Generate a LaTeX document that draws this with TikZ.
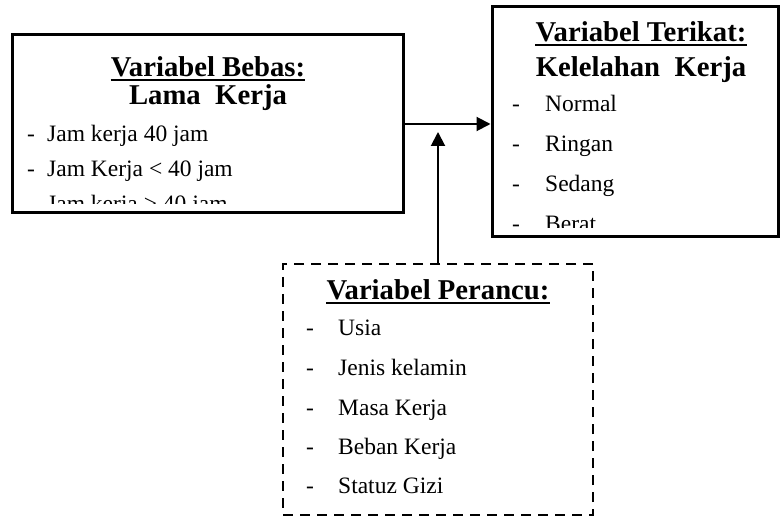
\documentclass[tikz,border=0pt]{standalone}
\usepackage{fontspec}
\setmainfont{Liberation Serif}
\usetikzlibrary{arrows.meta}
\begin{document}
\begin{tikzpicture}[x=1pt,y=-1pt,
  solidbox/.style={draw, line width=3pt, inner sep=0pt},
  dashbox/.style={draw, line width=2.5pt, inner sep=0pt, dash pattern=on 10pt off 7pt},
  itemtext/.style={anchor=base west, inner sep=0pt, font=\fontsize{23.5}{28}\selectfont},
  titletext/.style={anchor=base, inner sep=0pt, font=\fontsize{28.7}{34}\selectfont\bfseries},
  uline/.style={line width=2pt},
  arr/.style={line width=2pt, -{Triangle[length=14pt,width=14pt]}}]
\useasboundingbox (0,0) rectangle (781,518);

% boxes
\node[solidbox, minimum width=391pt, minimum height=178pt] (bebas) at (207.5,124) {};
\node[solidbox, minimum width=286pt, minimum height=230pt] (terikat) at (635,122) {};
\node[dashbox, minimum width=310pt, minimum height=251pt] (perancu) at (438,389.5) {};

% box 1 text
\begin{scope}
\clip (14,37) rectangle (401,204);
\node[titletext] (t1a) at (208,77) {Variabel Bebas:};
\draw[uline] ([yshift=-3.5pt]t1a.base west) -- ([yshift=-3.5pt]t1a.base east);
\node[titletext] (t1b) at (208,105) {Lama~~Kerja};
\node[itemtext] (a1) at (27,142) {-};
\node[itemtext] (b1) at (47,142) {Jam kerja 40 jam};
\node[itemtext] (a2) at (27,177) {-};
\node[itemtext] (b2) at (47,177) {Jam Kerja < 40 jam};
\node[itemtext] (a3) at (27,212) {-};
\node[itemtext] (b3) at (47,212) {Jam kerja > 40 jam};
\end{scope}

% box 2 text
\begin{scope}
\clip (494,9) rectangle (776,228);
\node[titletext] (t2a) at (641,42) {Variabel Terikat:};
\draw[uline] ([yshift=-3.5pt]t2a.base west) -- ([yshift=-3.5pt]t2a.base east);
\node[titletext] (t2b) at (641,77) {Kelelahan~~Kerja};
\node[itemtext] (d1) at (512,112) {-};
\node[itemtext] (n1) at (545,112) {Normal};
\node[itemtext] (d2) at (512,152) {-};
\node[itemtext] (n2) at (545,152) {Ringan};
\node[itemtext] (d3) at (512,192) {-};
\node[itemtext] (n3) at (545,192) {Sedang};
\node[itemtext] (d4) at (512,232) {-};
\node[itemtext] (n4) at (545,232) {Berat};
\end{scope}

% box 3 text
\node[titletext] (t3a) at (438,300) {Variabel Perancu:};
\draw[uline] ([yshift=-3.5pt]t3a.base west) -- ([yshift=-3.5pt]t3a.base east);
\node[itemtext] (e1) at (306,335) {-};
\node[itemtext] (p1) at (338,335) {Usia};
\node[itemtext] (e2) at (306,375) {-};
\node[itemtext] (p2) at (338,375) {Jenis kelamin};
\node[itemtext] (e3) at (306,415) {-};
\node[itemtext] (p3) at (338,415) {Masa Kerja};
\node[itemtext] (e4) at (306,454) {-};
\node[itemtext] (p4) at (338,454) {Beban Kerja};
\node[itemtext] (e5) at (306,493) {-};
\node[itemtext] (p5) at (338,493) {Statuz Gizi};

% connectors
\coordinate (vtip) at (438,132);
\draw[arr] (bebas.east) -- (bebas.east -| terikat.west);
\draw[arr] (perancu.north) -- (vtip);
\end{tikzpicture}
\end{document}
